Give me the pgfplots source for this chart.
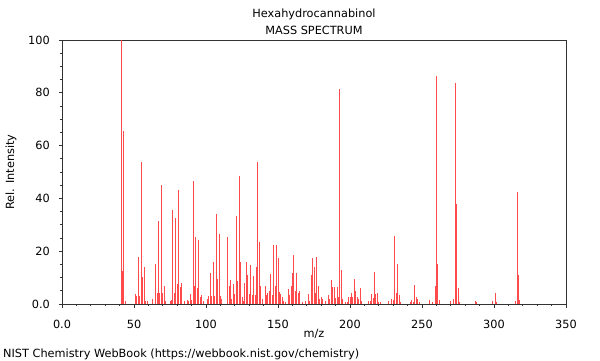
\documentclass[border=0pt]{standalone}
\usepackage{fontspec}
\setmainfont{DejaVu Sans}
\usepackage{pgfplots}
\usepackage{pgfplotstable}
\pgfplotsset{compat=1.18}
\pgfplotstableread{
mz I
41 100
42 12.5
43 65.7
44 1
51 3.8
52 3
53 17.8
54 3
55 53.8
56 10.2
57 14
58 1
59 1
63 2
65 15.2
66 4
67 31.4
68 4
69 45
70 4
71 6.8
72 1
75 1
76 1.5
77 35.7
78 4
79 32.6
80 7.5
81 43
82 6.5
83 8
85 1
87 1.5
88 1
89 3.7
90 1.5
91 46.7
92 7
93 25.4
94 6
95 24.2
96 2.5
97 3.5
98 1
101 2
102 3
103 11.6
104 3
105 15.9
106 3
107 34
108 9.4
109 26.4
110 3
111 2
115 25.2
116 7
117 9.2
118 2
119 7.6
120 3.8
121 33.4
122 8.7
123 48.6
124 16
125 2.5
126 1
127 8
128 16
129 11
130 3.8
131 14.9
132 3.5
133 10.5
134 3.5
135 14.2
136 53.6
137 23.5
138 6.8
139 2
141 6.7
142 3.5
143 4
144 5
145 11.5
146 3.5
147 22.4
148 6.7
149 22.5
150 17.3
151 4.6
152 3.8
153 2.8
154 1
155 0.7
157 5.8
158 3.5
159 7
160 11.7
161 18.7
162 5
163 11.8
164 4.2
165 4.8
167 0.8
169 1.2
171 3.8
172 1.2
173 11
174 17.6
175 14
176 4
177 17.8
178 6.8
179 2
180 2.8
181 1.8
183 1.2
185 3.5
186 2
187 9
188 6.5
189 6.5
190 2.3
191 6.5
192 2.8
193 81.5
194 13
195 2
197 0.9
198 0.9
199 2.6
200 2.6
201 4
202 2.6
203 9.5
204 5
205 2.5
206 2
207 6
208 1
213 1
214 1
215 3.8
216 2.3
217 12
218 3.8
219 4
220 0.9
221 0.9
227 1
229 2
230 1.5
231 25.7
232 4
233 15.2
234 3.5
235 0.9
242 0.9
243 1.5
244 0.9
245 7.2
246 2.8
247 2
248 0.9
255 1.6
257 0.6
259 7
260 86.3
261 15.2
262 1.6
270 1
272 2
273 83.8
274 38
275 6
276 0.9
287 1.2
288 0.6
299 1
301 4.2
302 0.9
315 1.2
316 42.3
317 11
318 1.5
}\spectrum
\newcommand\fs{\fontsize{11.3bp}{13.5bp}\selectfont}
\begin{document}
\fs
\begin{tikzpicture}[x=1bp,y=1bp]
\useasboundingbox (0,0) rectangle (600,360);
\begin{axis}[
  at={(62bp,56bp)}, anchor=south west,
  scale only axis, width=504bp, height=264bp,
  xmin=0, xmax=350, ymin=0, ymax=100,
  xtick={0,50,...,350},
  xticklabels={0.0,50,100,150,200,250,300,350},
  ytick={0,20,...,100},
  yticklabels={0.0,20,40,60,80,100},
  minor x tick num=4, minor y tick num=3,
  tick pos=left, tick align=outside,
  major tick length=3.5bp, minor tick length=2bp,
  axis line style={black!80, line width=0.8bp},
  every tick/.style={black!80, line width=0.8bp},
  /pgf/number format/assume math mode=true,
  ticklabel style={font=\fs},
  xticklabel style={anchor=north, inner sep=0pt, yshift=-12bp},
  yticklabel style={anchor=east, inner sep=0pt, xshift=-8.5bp},
  xlabel={m/z}, ylabel={Rel. Intensity},
  every axis x label/.style={at={(axis description cs:0.5,-0.1117)}, anchor=center, font=\fs},
  every axis y label/.style={at={(axis description cs:-0.1012,0.5)}, anchor=center, rotate=90, font=\fs},
]
\addplot[ycomb, draw={rgb,255:red,255;green,75;blue,75}, line width=0.9bp, mark=none] table[x=mz, y=I] {\spectrum};
\end{axis}
\node[anchor=base] at (314,342.5) {Hexahydrocannabinol};
\node[anchor=base] at (314,326) {MASS SPECTRUM};
\node[anchor=base west, inner sep=0pt] at (3,3) {NIST Chemistry WebBook (https://webbook.nist.gov/chemistry)};
\end{tikzpicture}
\end{document}
